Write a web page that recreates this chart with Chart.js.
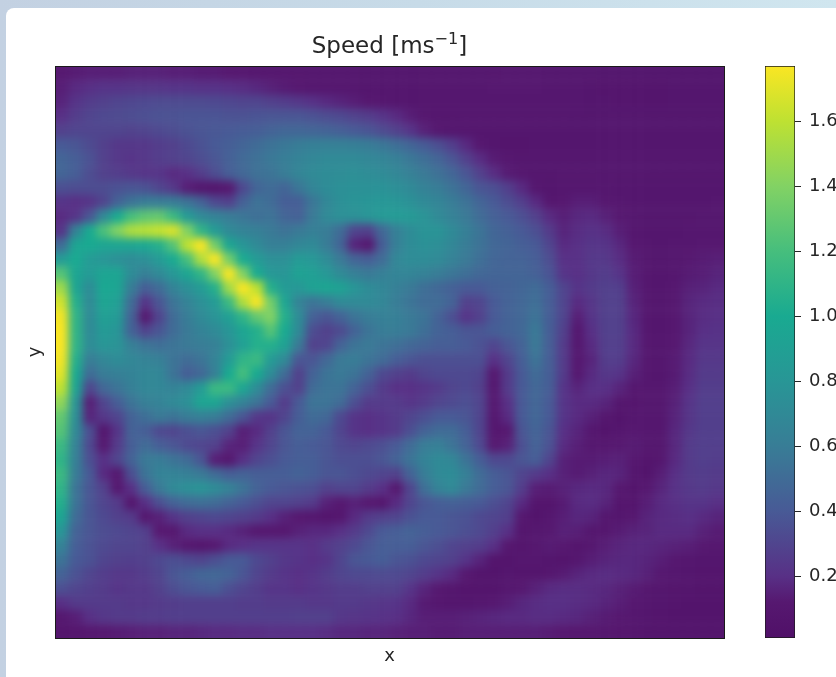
<!DOCTYPE html>
<html>
<head>
<meta charset="utf-8">
<title>Speed</title>
<script src="https://cdn.jsdelivr.net/npm/chart.js@4"></script>
<style>
    html, body { margin: 0; padding: 0; }
    #page {
        position: relative; width: 836px; height: 677px; overflow: hidden;
        background: linear-gradient(90deg, #c3d1e2 0%, #c7dbe8 50%, #d0e6ef 100%);
    }
    #card {
        position: absolute; left: 6px; top: 8px; width: 850px; height: 690px;
        background: #fff; border-radius: 8px;
    }
    #heat-clip { position: absolute; left: 55px; top: 66px; width: 669px; height: 572px; overflow: hidden; }
    #heat { position: absolute; left: -14px; top: -14px; filter: blur(4px); }
    #frame { position: absolute; left: 0; top: 0; }
    #bar { position: absolute; left: 760px; top: 56px; }
    #title {
        position: absolute; left: 55px; top: 30px; width: 669px; text-align: center;
        font: 23px/30px "DejaVu Sans"; color: #262626;
    }
    #title sup { font-size: 70%; line-height: 0; }
</style>
</head>
<body>
<div id="page">
    <div id="card"></div>
    <div id="heat-clip"><canvas id="heat" width="697" height="601"></canvas></div>
    <canvas id="frame" width="836" height="677"></canvas>
    <canvas id="bar" width="76" height="590"></canvas>
    <div id="title">Speed [ms<sup>−1</sup>]</div>
</div>
<script>
// --------------------------------
// Data (speed in hundredths of m/s, top row first)
// --------------------------------

const speedRows = [
    [12,13,14,14,14,15,15,15,14,14,13,13, 12,12,11,11,10,10,10,10,10,10,9,9, 9,9,10,10,11,11,11,11,12,12,12,11, 10,10,10,9,9,9,9,9,9,9,9,9],
    [14,18,20,22,22,23,23,23,22,22,21,21, 20,19,17,15,13,12,11,10,10,10,9,9, 9,9,10,10,11,11,11,12,12,12,12,11, 10,10,9,8,8,8,8,8,9,9,9,9],
    [16,22,26,28,30,31,32,33,33,33,33,32, 31,30,30,28,26,24,21,18,16,14,12,10, 9,9,10,10,10,10,11,11,11,11,11,11, 10,10,9,9,8,8,8,8,9,9,9,9],
    [20,26,30,32,33,34,35,36,36,37,37,37, 36,36,37,38,38,38,36,34,32,29,26,22, 18,14,11,9,9,10,10,10,10,10,10,10, 10,9,9,9,9,9,9,9,9,9,9,9],
    [28,30,30,30,30,29,30,32,34,36,38,39, 40,41,42,45,47,47,46,45,43,40,37,33, 28,22,15,11,9,9,9,9,9,9,9,9, 9,9,9,9,9,9,9,9,9,9,9,9],
    [40,38,33,28,24,24,24,26,28,32,36,40, 43,46,50,54,57,60,62,63,63,62,60,57, 52,47,41,35,27,18,12,9,8,8,9,9, 9,9,9,9,9,9,9,9,9,9,9,9],
    [46,42,36,28,24,22,24,26,28,30,34,38, 44,49,53,57,61,65,68,70,70,70,68,66, 62,57,52,46,38,28,19,13,10,9,9,9, 9,9,9,9,9,9,9,9,9,9,9,9],
    [46,42,34,28,26,24,22,22,18,20,26,34, 42,48,53,55,60,66,70,72,73,74,73,71, 68,63,58,53,47,38,28,19,13,10,9,9, 10,10,10,9,9,9,9,9,9,9,9,9],
    [35,34,34,34,36,38,36,30,24,14,9,8, 12,32,46,50,46,56,66,72,75,76,76,77, 74,70,64,60,54,47,38,35,27,18,11,9, 10,11,11,10,9,9,9,9,9,9,9,9],
    [22,20,22,30,45,55,60,60,60,55,45,32, 28,44,54,50,42,42,56,68,75,78,80,82, 80,76,70,66,60,54,46,40,34,27,18,11, 12,14,14,12,10,9,9,9,9,9,9,10],
    [18,22,38,70,100,120,128,130,115,85,70,65, 60,56,52,54,46,44,58,70,75,76,80,84, 86,84,78,70,64,58,50,44,40,35,28,18, 14,17,18,15,12,10,9,9,9,9,10,10],
    [22,65,100,122,140,155,158,162,168,140,110,85, 70,65,62,58,54,58,62,60,50,30,28,48, 62,72,78,78,70,62,55,47,44,40,35,25, 16,19,21,19,14,11,9,9,9,10,11,11],
    [50,95,100,95,95,95,98,105,125,160,178,135, 95,80,70,62,62,68,70,60,46,16,12,42, 62,72,76,74,68,60,54,48,46,43,40,30, 18,20,23,22,17,12,10,9,10,11,12,12],
    [85,100,85,80,75,72,75,85,100,120,155,178, 135,100,85,75,75,85,82,72,58,46,42,50, 68,72,72,70,64,58,52,47,45,45,42,34, 20,20,24,24,19,13,10,9,10,12,13,14],
    [125,95,85,95,95,72,62,70,82,95,110,140, 178,140,100,82,80,92,90,82,70,62,58,62, 66,66,64,60,56,52,48,46,46,46,44,37, 22,20,24,26,22,14,10,9,11,13,14,16],
    [150,95,72,98,95,60,42,50,65,75,85,105, 150,178,160,105,85,82,92,95,92,80,72,68, 62,58,52,48,44,40,40,44,45,47,50,42, 30,22,25,28,27,15,10,9,12,15,16,18],
    [165,105,70,95,90,50,22,38,55,65,75,85, 115,155,177,135,95,65,55,60,70,70,70,68, 60,55,50,50,45,28,30,40,45,48,52,42, 30,18,23,28,28,16,10,9,12,16,18,19],
    [175,110,70,90,85,45,12,30,50,60,70,78, 90,110,130,140,105,72,44,38,45,55,60,62, 62,58,55,45,35,22,28,40,45,48,55,42, 30,14,22,28,28,17,11,9,12,16,19,20],
    [177,110,70,85,80,45,30,38,50,58,65,70, 80,95,105,125,100,70,34,28,33,45,55,60, 60,58,52,45,42,38,38,42,45,48,58,42, 28,10,20,28,28,18,11,9,12,16,20,21],
    [177,110,72,80,78,62,55,52,55,58,60,62, 75,90,105,105,92,58,28,30,45,55,58,55, 52,48,45,42,42,40,36,30,38,45,58,42, 25,9,18,27,27,18,11,9,12,17,22,22],
    [175,105,60,68,72,68,65,62,55,50,55,65, 85,110,115,85,70,38,38,48,58,60,55,50, 42,38,35,35,35,35,35,20,30,42,55,42, 25,10,16,26,26,17,11,9,13,18,24,24],
    [170,100,50,60,62,65,68,68,55,42,48,62, 100,120,100,72,50,28,45,55,58,55,45,32, 28,25,30,32,32,32,30,12,25,40,50,42, 25,12,18,24,22,15,11,9,13,19,25,25],
    [160,95,30,48,55,62,68,68,65,70,85,115, 115,95,72,50,35,28,50,55,55,45,35,25, 20,20,22,25,30,32,28,10,25,40,48,42, 22,16,20,20,16,10,10,10,14,20,26,26],
    [145,80,14,30,42,55,62,65,70,75,95,95, 75,65,55,40,25,40,55,55,50,35,25,25, 25,22,25,30,32,35,30,12,20,40,48,40, 22,18,18,16,9,8,10,10,15,22,27,27],
    [130,75,16,24,30,45,52,58,55,60,62,60, 50,38,24,22,30,42,50,48,32,22,20,22, 25,30,35,40,40,38,30,10,18,40,48,40, 22,18,15,10,7,10,11,11,16,23,27,27],
    [125,70,35,8,22,45,42,32,30,35,38,35, 28,14,18,28,38,45,45,40,30,22,20,22, 25,35,45,50,50,42,30,10,12,38,46,38, 20,16,11,7,9,12,11,10,17,24,27,27],
    [115,65,32,10,25,42,50,42,38,32,30,28, 16,14,22,30,38,42,40,38,32,30,32,35, 40,50,60,62,55,45,32,12,15,35,45,36, 18,14,10,11,12,13,10,10,17,25,27,27],
    [110,62,35,20,30,45,58,60,55,50,38,14, 10,20,30,35,40,42,42,38,35,35,35,38, 45,55,65,70,68,55,42,32,32,38,42,30, 15,13,13,14,15,12,8,11,18,25,27,26],
    [115,60,40,18,12,35,55,65,65,62,58,50, 42,45,42,42,42,45,42,38,38,35,32,30, 28,45,60,70,72,62,50,42,38,30,25,20, 15,13,15,17,16,10,7,14,20,25,26,25],
    [110,55,38,28,10,20,42,58,70,75,78,72, 65,55,45,40,38,36,35,28,30,30,25,20, 10,30,52,65,70,58,50,42,38,26,14,13, 15,17,18,17,11,6,12,16,21,24,25,24],
    [105,55,38,30,25,8,20,35,45,50,52,50, 45,40,35,30,30,28,25,15,12,15,12,8, 18,30,38,42,44,42,40,35,30,18,8,8, 13,18,19,16,8,8,14,18,20,22,22,20],
    [95,50,38,32,28,25,10,15,22,28,30,32, 30,28,25,20,15,12,10,8,10,18,25,28, 30,36,40,40,38,36,32,30,27,12,7,10, 14,17,16,10,9,12,16,18,19,20,18,16],
    [80,45,38,34,32,30,27,12,10,18,20,20, 18,15,10,10,10,15,17,17,20,25,32,40, 42,45,42,40,38,35,32,27,20,8,10,12, 15,14,9,9,13,15,16,18,18,18,15,13],
    [65,42,36,32,30,30,28,20,15,10,8,12, 18,20,22,22,22,22,20,25,28,32,38,42, 42,42,38,35,30,28,26,20,10,8,10,13, 12,8,10,14,16,17,17,16,15,14,12,10],
    [55,40,36,30,28,27,28,32,35,32,30,35, 40,40,32,28,24,22,20,22,30,38,40,42, 38,36,32,30,28,22,16,8,8,10,10,9, 8,10,14,16,17,17,16,14,12,11,9,9],
    [45,36,30,26,24,24,26,30,38,42,47,48, 45,38,30,25,22,20,22,26,30,32,32,33, 32,30,26,22,18,12,7,7,9,8,8,10, 13,16,18,19,18,17,15,12,10,9,8,8],
    [35,30,27,25,22,24,24,28,34,38,40,42, 35,30,26,22,22,20,22,24,26,26,28,28, 28,22,16,12,9,7,6,7,10,12,15,18, 19,19,18,17,15,13,11,9,8,8,7,7],
    [20,25,25,25,25,24,24,25,26,27,27,27, 27,26,26,25,25,25,24,24,25,25,24,23, 22,18,13,10,9,9,10,12,14,17,19,20, 20,19,18,16,14,12,10,9,8,7,7,7],
    [10,14,20,24,25,25,26,26,27,27,27,27, 27,27,27,27,27,28,28,28,24,23,22,21, 20,17,14,14,14,15,16,17,18,18,19,19, 18,17,15,13,12,10,9,8,7,7,7,7],
    [7,8,10,12,13,14,15,15,16,16,17,18, 18,19,19,20,20,20,20,19,17,17,16,16, 15,14,14,13,13,14,14,14,14,14,14,13, 12,11,10,9,8,8,7,7,6,6,6,6]
];

const barTicks = [0.2, 0.4, 0.6, 0.8, 1.0, 1.2, 1.4, 1.6];
const speedMin = 0.01;
const speedMax = 1.77;

// colours as they look on the colorbar: value, r, g, b
const colorStops = [
    [0.01, 80, 16, 104], [0.12, 86, 24, 112], [0.2, 88, 48, 134], [0.4, 72, 90, 150], [0.6, 56, 125, 150],
    [0.8, 40, 150, 150], [1.0, 25, 170, 145], [1.2, 70, 190, 125], [1.4, 130, 210, 100],
    [1.6, 190, 225, 50], [1.77, 250, 230, 35]
];

const nRows = speedRows.length;
const nCols = speedRows[0].length;
const textColor = '#262626';
const font = '"DejaVu Sans"';

function speedColor(v) {
    for (let i = 1; i < colorStops.length; i++) {
        if (v <= colorStops[i][0]) {
            const a = colorStops[i - 1];
            const b = colorStops[i];
            const t = Math.max(0, (v - a[0]) / (b[0] - a[0]));
            return `rgb(${a[1] + (b[1] - a[1]) * t}, ${a[2] + (b[2] - a[2]) * t}, ${a[3] + (b[3] - a[3]) * t})`;
        }
    }
    return 'rgb(250, 230, 35)';
}

// --------------------------------
// Heat map (one extra ring of cells so the blur has no empty edge)
// --------------------------------

const cells = [];
for (let r = -1; r <= nRows; r++) {
    for (let c = -1; c <= nCols; c++) {
        const row = speedRows[Math.min(nRows - 1, Math.max(0, r))];
        cells.push({ x: c + 0.5, y: r + 0.5, v: row[Math.min(nCols - 1, Math.max(0, c))] / 100 });
    }
}

new Chart(document.getElementById('heat'), {
    type: 'scatter',
    data: {
        datasets: [{
            data: cells,
            pointStyle: 'rect',
            borderWidth: 0,
            backgroundColor: ctx => speedColor(ctx.raw.v),
            radius: ctx => {
                const s = ctx.chart.scales;
                return Math.max(s.x.width / (nCols + 2), s.y.height / (nRows + 2)) * 0.72;
            }
        }]
    },
    options: {
        responsive: false,
        animation: false,
        layout: { padding: 0 },
        plugins: { legend: { display: false }, tooltip: { enabled: false } },
        scales: {
            x: { type: 'linear', display: false, min: -1, max: nCols + 1 },
            y: { type: 'linear', display: false, min: -1, max: nRows + 1, reverse: true }
        }
    }
});

// --------------------------------
// Frame and axis labels
// --------------------------------

const frameBox = {
    id: 'frameBox',
    afterDraw(chart) {
        const a = chart.chartArea;
        chart.ctx.save();
        chart.ctx.strokeStyle = '#1a1a1a';
        chart.ctx.lineWidth = 1;
        chart.ctx.strokeRect(a.left + 0.5, a.top + 0.5, a.right - a.left, a.bottom - a.top);
        chart.ctx.restore();
    }
};

new Chart(document.getElementById('frame'), {
    type: 'scatter',
    data: { datasets: [{ data: [] }] },
    plugins: [frameBox],
    options: {
        responsive: false,
        animation: false,
        layout: { padding: { left: 0, top: 66, right: 112, bottom: 0 } },
        plugins: { legend: { display: false }, tooltip: { enabled: false } },
        scales: {
            x: {
                min: 0, max: 1,
                ticks: { display: false },
                grid: { display: false },
                border: { display: false },
                title: { display: true, text: 'x', color: textColor, font: { family: font, size: 18 }, padding: { top: 0, bottom: 10 } },
                afterFit: s => { s.height = 39; }
            },
            y: {
                min: 0, max: 1,
                ticks: { display: false },
                grid: { display: false },
                border: { display: false },
                title: { display: true, text: 'y', color: textColor, font: { family: font, size: 18 }, padding: { top: 25, bottom: 0 } },
                afterFit: s => { s.width = 55; }
            }
        }
    }
});

// --------------------------------
// Colorbar
// --------------------------------

function barGradient(ctx) {
    const { chart } = ctx;
    const y = chart.scales.y;
    const y0 = y.getPixelForValue(speedMin);
    const y1 = y.getPixelForValue(speedMax);
    if (!isFinite(y0) || !isFinite(y1)) {
        return '#444';
    }
    const grad = chart.ctx.createLinearGradient(0, y0, 0, y1);
    colorStops.forEach(s => {
        grad.addColorStop((s[0] - speedMin) / (speedMax - speedMin), `rgb(${s[1]}, ${s[2]}, ${s[3]})`);
    });
    return grad;
}

const barChart = new Chart(document.getElementById('bar'), {
    type: 'bar',
    data: {
        labels: ['speed'],
        datasets: [{
            data: [[speedMin, speedMax]],
            backgroundColor: barGradient,
            borderColor: '#1a1a1a',
            borderWidth: 1,
            borderSkipped: false,
            barPercentage: 1,
            categoryPercentage: 1
        }]
    },
    options: {
        responsive: false,
        animation: false,
        layout: { padding: { left: 5, top: 10, right: 0, bottom: 8 } },
        plugins: { legend: { display: false }, tooltip: { enabled: false } },
        scales: {
            x: { display: false },
            y: {
                position: 'right',
                min: speedMin,
                max: speedMax,
                afterBuildTicks: s => { s.ticks = barTicks.map(v => ({ value: v })); },
                afterFit: s => { s.width = 41; s.paddingTop = 0; s.paddingBottom = 0; },
                border: { display: false },
                grid: { drawOnChartArea: false, tickLength: 6, color: '#262626' },
                ticks: {
                    color: textColor,
                    padding: 8,
                    font: { family: font, size: 18 },
                    callback: v => v.toFixed(1)
                }
            }
        }
    }
});
barChart.update();
</script>
</body>
</html>
